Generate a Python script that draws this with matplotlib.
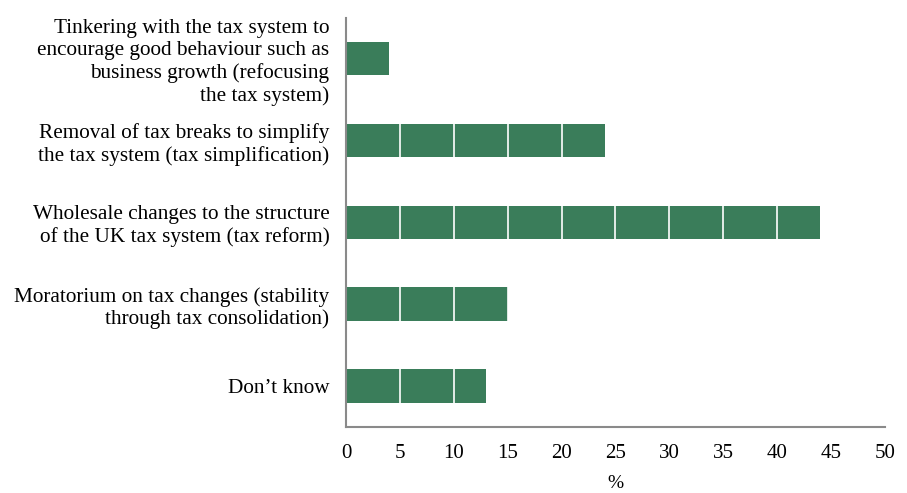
import matplotlib
matplotlib.use("Agg")
import matplotlib.pyplot as plt

# データ
labels = [
    "Tinkering with the tax system to\nencourage good behaviour such as\nbusiness growth (refocusing\nthe tax system)",
    "Removal of tax breaks to simplify\nthe tax system (tax simplification)",
    "Wholesale changes to the structure\nof the UK tax system (tax reform)",
    "Moratorium on tax changes (stability\nthrough tax consolidation)",
    "Don\u2019t know",
]
values = [4, 24, 44, 15, 13]
xticks = [0, 5, 10, 15, 20, 25, 30, 35, 40, 45, 50]

plt.rcParams["font.family"] = ["Liberation Serif", "DejaVu Serif"]

fig = plt.figure(figsize=(9.07, 4.93), dpi=100)
ax = fig.add_axes([0.3815, 0.134, 0.594, 0.83])

y = range(len(values))
ax.barh(y, values, height=0.41, color="#3a7d5a", zorder=1)

ax.set_xlim(0, 50)
ax.set_ylim(len(values) - 0.5, -0.5)
ax.set_xticks(xticks)
ax.set_xticklabels([str(t) for t in xticks], fontsize=15)
ax.set_yticks(list(y))
ax.set_yticklabels(labels, fontsize=15.3, linespacing=1.2)
ax.tick_params(axis="both", length=0)
ax.tick_params(axis="y", pad=12)
ax.tick_params(axis="x", pad=12)

# 白いグリッド線（バーの上）
for t in xticks[1:-1]:
    ax.axvline(t, color="white", lw=1.2, zorder=2)

for s in ["top", "right"]:
    ax.spines[s].set_visible(False)
for s in ["left", "bottom"]:
    ax.spines[s].set_color("#8a8a8a")
    ax.spines[s].set_linewidth(1.5)

ax.set_xlabel("%", fontsize=14, labelpad=9)

fig.savefig("out.png", dpi=100)
